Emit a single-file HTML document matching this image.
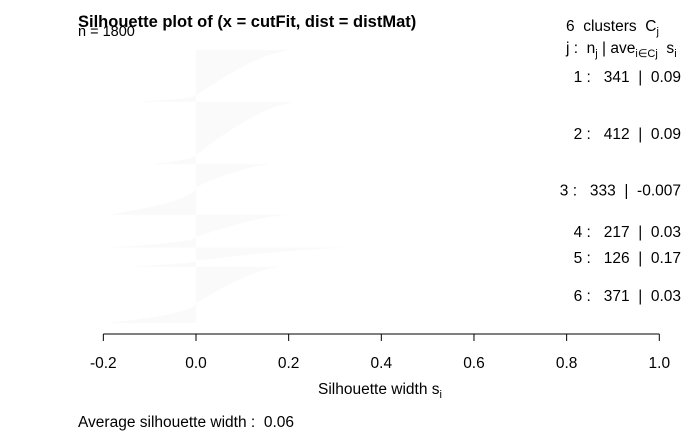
<!DOCTYPE html>
<html><head><meta charset="utf-8"><style>
body{margin:0;background:#fff}
svg{display:block;font-family:"Liberation Sans",Arial,sans-serif}
text{white-space:pre}
</style></head><body>
<svg id="chart" width="700" height="432" viewBox="0 0 700 432">
<text x="78" y="27" font-size="16.5" font-weight="bold">Silhouette plot of (x = cutFit, dist = distMat)</text>
<text x="78" y="36" font-size="14.5">n = 1800</text>
<g id="bars"></g>
<g id="axis"></g>
<text x="380" y="394" font-size="15.5" text-anchor="middle">Silhouette width s<tspan font-size="11" dy="4">i</tspan></text>
<text x="78" y="427" font-size="15.5">Average silhouette width :  0.06</text>
<g font-size="15.5">
<text x="566" y="31">6  clusters  C<tspan font-size="11" dy="4">j</tspan></text>
<text x="566" y="53">j :  n<tspan font-size="11" dy="4">j</tspan><tspan dy="-4"> | ave</tspan><tspan font-size="11" dy="4">i∈Cj</tspan><tspan dy="-4">  s</tspan><tspan font-size="11" dy="4">i</tspan></text>
</g>
<g id="labels" font-size="15.5"></g>
</svg>
<script>
const clusterIds=[1,2,3,4,5,6];
const clusterSizes=[341,412,333,217,126,371];
const clusterAvg=["0.09","0.09","-0.007","0.03","0.17","0.03"];
const clusterMax=[0.20,0.21,0.16,0.20,0.33,0.18];
const clusterMin=[-0.13,-0.10,-0.19,-0.19,-0.15,-0.19];
const clusterPosFrac=[0.88,0.85,0.45,0.68,0.68,0.65];
const xTicks=[-0.2,0,0.2,0.4,0.6,0.8,1.0];
const xTickLabels=["-0.2","0.0","0.2","0.4","0.6","0.8","1.0"];
const NS="http://www.w3.org/2000/svg";
const x=v=>196+v*463.3;
const top0=50,pxPer=273/1800;
const bars=document.getElementById('bars'),labels=document.getElementById('labels'),axis=document.getElementById('axis');
let y=top0;
clusterIds.forEach((id,i)=>{
  const h=clusterSizes[i]*pxPer, y0=y, yz=y0+h*clusterPosFrac[i], y1=y0+h;
  const pts=[];
  pts.push([x(0),y0]);
  for(let k=0;k<=10;k++){const t=k/10;const yy=y0+(yz-y0)*t;pts.push([x(clusterMax[i]*(1-Math.pow(t,0.7))),yy]);}
  for(let k=0;k<=10;k++){const t=k/10;const yy=yz+(y1-yz)*t;pts.push([x(clusterMin[i]*Math.pow(t,2)),yy]);}
  pts.push([x(0),y1]);
  const p=document.createElementNS(NS,'polygon');
  p.setAttribute('points',pts.map(q=>q.join(',')).join(' '));
  p.setAttribute('fill','#fafafa');
  
  
  bars.appendChild(p);
  const t=document.createElementNS(NS,'text');
  const cy=(y0+y1)/2+6;
  t.setAttribute('x',681);t.setAttribute('y',cy);t.setAttribute('text-anchor','end');
  t.textContent=id+' :   '+clusterSizes[i]+'  |  '+clusterAvg[i];
  
  
  labels.appendChild(t);
  y=y1;
});
const ax=document.createElementNS(NS,'line');
ax.setAttribute('x1',x(-0.2));ax.setAttribute('x2',x(1));ax.setAttribute('y1',334);ax.setAttribute('y2',334);ax.setAttribute('stroke','#000');


axis.appendChild(ax);
xTicks.forEach((v,i)=>{
  const l=document.createElementNS(NS,'line');
  l.setAttribute('x1',x(v));l.setAttribute('x2',x(v));l.setAttribute('y1',334);l.setAttribute('y2',341);l.setAttribute('stroke','#000');
  
  
  axis.appendChild(l);
  const t=document.createElementNS(NS,'text');
  t.setAttribute('x',x(v));t.setAttribute('y',368);t.setAttribute('text-anchor','middle');t.setAttribute('font-size','15.5');
  t.textContent=xTickLabels[i];
  
  
  axis.appendChild(t);
});
</script>
</body></html>
